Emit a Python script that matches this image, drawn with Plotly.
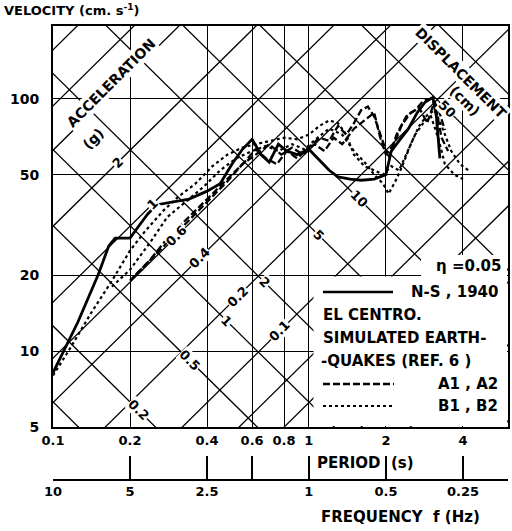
import numpy as np
import plotly.graph_objects as go

# ---------------- data ----------------
G_CM = 981.0  # cm/s^2

period_ticks = [0.1, 0.2, 0.4, 0.6, 0.8, 1, 2, 4, 6]
period_labels = ["0.1", "0.2", "0.4", "0.6", "0.8", "1", "2", "4", "6"]
velocity_ticks = [5, 10, 20, 50, 100]
velocity_labels = ["5", "10", "20", "50", "100"]
freq_ticks = [10, 5, 2.5, 1, 0.5, 0.25]
freq_labels = ["10", "5", "2.5", "1", "0.5", "0.25"]
freq_minor_ticks = [1.667]

accel_lines_g = [0.02, 0.04, 0.06, 0.1, 0.2, 0.4, 0.6, 1, 2, 4, 6, 10]
disp_lines_cm = [0.1, 0.2, 0.5, 1, 2, 5, 10, 20, 50, 100]

accel_label_vals = ["2", "1", "0.6", "0.4", "0.2", "0.1"]
accel_label_T = [0.179, 0.244, 0.305, 0.375, 0.528, 0.77]
disp_label_vals = ["0.2", "0.5", "1", "2", "5", "10", "50"]
disp_label_T = [0.215, 0.343, 0.478, 0.673, 1.094, 1.566, 3.45]

# El Centro N-S 1940 (solid)
T_ns = [0.1, 0.125, 0.15, 0.165, 0.175, 0.2, 0.215, 0.235, 0.255, 0.29, 0.34, 0.4, 0.45,
        0.5, 0.55, 0.6, 0.65, 0.7, 0.76, 0.82, 0.9, 1.0, 1.1, 1.2, 1.3, 1.45, 1.6, 1.8,
        2.0, 2.1, 2.25, 2.45, 2.65, 2.85, 3.05, 3.15, 3.25]
V_ns = [8.2, 13, 20, 26, 28, 28, 31, 35, 38, 39, 40, 43, 46,
        55, 63, 69, 60, 56, 66, 62, 60, 63, 57, 52, 49, 48, 47.5, 48,
        50, 62, 68, 76, 88, 97, 101, 85, 58]

# Simulated A1, A2 (dashed)
T_a1 = [0.2, 0.24, 0.28, 0.33, 0.38, 0.44, 0.5, 0.56, 0.62, 0.68, 0.75, 0.82, 0.9, 1.0,
        1.1, 1.2, 1.3, 1.4, 1.5, 1.6, 1.7, 1.8, 1.95, 2.05, 2.2, 2.4, 2.6, 2.8, 3.0, 3.2, 3.4]
V_a1 = [19, 23, 28, 33, 38, 44, 50, 56, 63, 58, 55, 62, 58, 64,
        70, 68, 78, 72, 80, 90, 93, 85, 68, 58, 72, 85, 90, 98, 100, 92, 75]
T_a2 = [0.21, 0.25, 0.3, 0.36, 0.42, 0.48, 0.55, 0.62, 0.7, 0.78, 0.86, 0.95, 1.05, 1.15,
        1.25, 1.35, 1.5, 1.65, 1.8, 1.9, 2.0, 2.15, 2.3, 2.5, 2.7, 2.9, 3.1, 3.3, 3.5]
V_a2 = [20, 24, 29, 35, 41, 47, 55, 60, 66, 60, 64, 60, 66, 62,
        70, 66, 76, 82, 88, 70, 60, 66, 78, 88, 92, 80, 98, 70, 62]

# Simulated B1, B2 (dotted)
T_b1 = [0.1, 0.115, 0.14, 0.17, 0.2, 0.23, 0.27, 0.31, 0.36, 0.42, 0.48, 0.55, 0.62, 0.7,
        0.8, 0.9, 1.0, 1.1, 1.2, 1.3, 1.4, 1.5, 1.65, 1.8, 1.95, 2.1, 2.25, 2.4, 2.6, 2.8,
        3.0, 3.2, 3.4, 3.7, 4.0]
V_b1 = [8, 10, 14, 19, 25, 30, 36, 41, 46, 54, 60, 64, 66, 68,
        70, 69, 72, 78, 82, 80, 72, 60, 54, 52, 50, 54, 52, 60, 72, 80,
        85, 70, 55, 50, 48]
T_b2 = [0.17, 0.2, 0.24, 0.28, 0.33, 0.39, 0.45, 0.52, 0.6, 0.68, 0.76, 0.86, 0.96, 1.08,
        1.2, 1.35, 1.5, 1.65, 1.8, 1.95, 2.05, 2.2, 2.35, 2.5, 2.7, 2.9, 3.1, 3.3, 3.6, 3.9, 4.2]
V_b2 = [18, 21, 27, 34, 39, 45, 52, 58, 62, 65, 62, 66, 63, 70,
        76, 72, 62, 56, 50, 46, 42, 48, 56, 66, 78, 86, 90, 78, 62, 55, 52]

# ---------------- layout geometry ----------------
W, H = 512, 531
ML, MR, MT, MB = 53, 4, 26, 0
PW, PH = W - ML - MR, H - MT - MB
XR = [np.log10(0.1), np.log10(6)]
YR = [np.log10(5), np.log10(194)]
Y_BOTTOM_PX = 427
FREQ_AXIS_PX = 480


def px(xp):
    return (xp - ML) / PW


def py(yp):
    return (H - MB - yp) / PH


FONT = "DejaVu Sans"
fig = go.Figure()

# tripartite grid: acceleration lines (V = A g T / 2pi) and displacement lines (V = 2pi D / T)
T_span = np.array([0.05, 10.0])
for A in accel_lines_g:
    fig.add_trace(go.Scatter(x=T_span, y=A * G_CM * T_span / (2 * np.pi), mode="lines",
                             line=dict(color="black", width=1.3), hoverinfo="skip", showlegend=False))
for D in disp_lines_cm:
    fig.add_trace(go.Scatter(x=T_span, y=2 * np.pi * D / T_span, mode="lines",
                             line=dict(color="black", width=1.3), hoverinfo="skip", showlegend=False))

# spectra
fig.add_trace(go.Scatter(x=T_ns, y=V_ns, mode="lines", line=dict(color="black", width=2.8),
                         name="N-S, 1940", showlegend=False))
for T_, V_ in [(T_a1, V_a1), (T_a2, V_a2)]:
    fig.add_trace(go.Scatter(x=T_, y=V_, mode="lines",
                             line=dict(color="black", width=2.3, dash="7px,3px"),
                             name="A1, A2", showlegend=False))
for T_, V_ in [(T_b1, V_b1), (T_b2, V_b2)]:
    fig.add_trace(go.Scatter(x=T_, y=V_, mode="lines",
                             line=dict(color="black", width=2.2, dash="dot"),
                             name="B1, B2", showlegend=False))

# invisible trace for frequency axis
fig.add_trace(go.Scatter(x=[0.1, 6], y=[5, 5], xaxis="x2", yaxis="y", mode="lines",
                         line=dict(width=0), hoverinfo="skip", showlegend=False))

annotations = []
lblfont = dict(family=FONT, size=13, color="black", weight="bold")
# line labels
for lab, T in zip(accel_label_vals, accel_label_T):
    A = float(lab)
    V = A * G_CM * T / (2 * np.pi)
    annotations.append(dict(x=np.log10(T), y=np.log10(V), xref="x", yref="y", text=lab,
                            xanchor="center", yanchor="middle",
                            textangle=-45, showarrow=False, bgcolor="white", borderpad=0,
                            font=lblfont))
for lab, T in zip(disp_label_vals, disp_label_T):
    D = float(lab)
    V = 2 * np.pi * D / T
    annotations.append(dict(x=np.log10(T), y=np.log10(V), xref="x", yref="y", text=lab,
                            xanchor="center", yanchor="middle",
                            textangle=45, showarrow=False, bgcolor="white", borderpad=0,
                            font=lblfont))

big = dict(family=FONT, size=14, color="black", weight="bold")


def note(xp, yp, text, font, angle=0, anchor="center", bg=None, pad=0):
    d = dict(x=px(xp), y=py(yp), xref="paper", yref="paper", text=text, textangle=angle,
             xanchor=anchor, yanchor="middle", showarrow=False, font=font, borderpad=pad)
    if bg:
        d["bgcolor"] = bg
    return d


annotations += [
    note(111, 83, "ACCELERATION", big, angle=-45, bg="white", pad=1),
    note(93, 139, "(g)", big, angle=-45, bg="white"),
    note(461, 73, "DISPLACEMENT", big, angle=45, bg="white", pad=1),
    note(465, 101, "(cm)", big, angle=45, bg="white"),
    note(3, 10, "VELOCITY (cm. s<sup>-1</sup>)", dict(family=FONT, size=13, color="black", weight="bold"),
         anchor="left"),
    note(365, 463, "PERIOD  (s)", dict(family=FONT, size=15, color="black", weight="bold")),
    note(400, 517, "FREQUENCY  f (Hz)", dict(family=FONT, size=15, color="black", weight="bold")),
]

leg = dict(family=FONT, size=15, color="black", weight="bold")
annotations += [
    note(502, 266, "η =0.05", leg, anchor="right"),
    note(499, 292, "N-S , 1940", leg, anchor="right"),
    note(322, 315, "EL CENTRO.", leg, anchor="left"),
    note(322, 338, "SIMULATED EARTH-", leg, anchor="left"),
    note(320, 361, "-QUAKES (REF. 6 )", leg, anchor="left"),
    note(499, 384, "A1 , A2", leg, anchor="right"),
    note(499, 406, "B1 , B2", leg, anchor="right"),
]

shapes = [
    # legend area
    dict(type="rect", xref="paper", yref="paper", x0=px(313.5), x1=px(507), y0=py(426), y1=py(276.5),
         fillcolor="white", line=dict(width=0), layer="above"),
    dict(type="rect", xref="paper", yref="paper", x0=px(421), x1=px(507), y0=py(277), y1=py(255),
         fillcolor="white", line=dict(width=0), layer="above"),
    # legend samples
    dict(type="line", xref="paper", yref="paper", x0=px(323), x1=px(393), y0=py(292), y1=py(292),
         line=dict(color="black", width=2.5), layer="above"),
    dict(type="line", xref="paper", yref="paper", x0=px(323), x1=px(394), y0=py(384), y1=py(384),
         line=dict(color="black", width=2.3, dash="7px,3px"), layer="above"),
    dict(type="line", xref="paper", yref="paper", x0=px(323), x1=px(394), y0=py(406), y1=py(406),
         line=dict(color="black", width=2.2, dash="dot"), layer="above"),
]

ydom0 = py(Y_BOTTOM_PX)
tickfont = dict(family=FONT, size=13, color="black", weight="bold")
fig.update_layout(
    width=W, height=H,
    margin=dict(l=ML, r=MR, t=MT, b=MB, pad=0),
    paper_bgcolor="white", plot_bgcolor="white",
    showlegend=False,
    xaxis=dict(type="log", range=XR, tickvals=period_ticks, ticktext=period_labels,
               showgrid=True, gridcolor="black", gridwidth=1.3, zeroline=False,
               showline=True, linecolor="black", linewidth=2, mirror=True,
               ticks="", tickfont=tickfont, anchor="y", automargin=False),
    yaxis=dict(type="log", range=YR, domain=[ydom0, 1], tickvals=velocity_ticks,
               ticktext=velocity_labels, showgrid=True, gridcolor="black", gridwidth=1.3,
               zeroline=False, showline=True, linecolor="black", linewidth=2, mirror=True,
               ticks="", tickfont=dict(family=FONT, size=14, color="black", weight="bold"),
               ticklabelstandoff=9, automargin=False),
    xaxis2=dict(type="log", range=XR, tickvals=[1.0 / f for f in freq_ticks], ticktext=freq_labels,
                anchor="free", position=py(FREQ_AXIS_PX), overlaying="x", side="bottom",
                showgrid=False, zeroline=False, showline=True, linecolor="black", linewidth=1.5,
                ticks="inside", ticklen=23, tickwidth=1.5, tickcolor="black",
                minor=dict(tickvals=[1.0 / f for f in freq_minor_ticks], ticks="inside",
                           ticklen=23, tickwidth=1.5, tickcolor="black", showgrid=False),
                tickfont=tickfont, automargin=False),
    annotations=annotations,
    shapes=shapes,
)

fig.write_html("out.html")
